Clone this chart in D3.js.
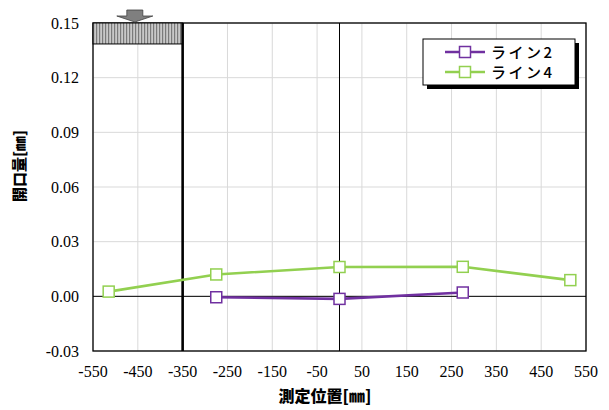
<!DOCTYPE html>
<html>
<head>
<meta charset="utf-8">
<script src="https://cdn.jsdelivr.net/npm/d3@7"></script>
<style>
html,body{margin:0;padding:0;background:#fff;}
svg{display:block;}
</style>
</head>
<body>
<svg id="chart" width="609" height="410"></svg>
<script>
// ---- data ----
const xTicks = [-550,-450,-350,-250,-150,-50,50,150,250,350,450,550];
const yTicks = [-0.03,0.00,0.03,0.06,0.09,0.12,0.15];
const seriesNames = ["ライン2","ライン4"];
const line2X = [-275, 0, 275];
const line2Y = [-0.0005, -0.0014, 0.0021];
const line4X = [-515, -275, 0, 275, 515];
const line4Y = [0.0026, 0.012, 0.0161, 0.0162, 0.0089];
const seriesColors = ["#7030A0","#92D050"];
const supportRange = [-550, -350];
const supportTop = [0.15, 0.1385];
const xTitle = "測定位置[㎜]";
const yTitle = "開口量[㎜]";

const serif = "'Times New Roman', 'Liberation Serif', 'DejaVu Serif', 'Noto Serif', serif";
const cjk = "Noto Sans CJK JP";

const svg = d3.select("#chart");
const m = {l:93, r:586, t:23, b:351};
const x = d3.scaleLinear().domain([-550,550]).range([m.l,m.r]);
const y = d3.scaleLinear().domain([-0.03,0.15]).range([m.b,m.t]);

// pattern
const defs = svg.append("defs");
const pat = defs.append("pattern").attr("id","hatch").attr("patternUnits","userSpaceOnUse")
  .attr("width",3).attr("height",10);
pat.append("rect").attr("width",3).attr("height",10).attr("fill","#c8c8c8");
pat.append("rect").attr("width",1.2).attr("height",10).attr("fill","#7a7a7a");

// grid
svg.append("g").selectAll("line").data(xTicks).join("line")
  .attr("x1",d=>x(d)).attr("x2",d=>x(d)).attr("y1",m.t).attr("y2",m.b)
  .attr("stroke","#d9d9d9").attr("stroke-width",1);
svg.append("g").selectAll("line").data(yTicks).join("line")
  .attr("y1",d=>y(d)).attr("y2",d=>y(d)).attr("x1",m.l).attr("x2",m.r)
  .attr("stroke","#d9d9d9").attr("stroke-width",1);

// zero lines
svg.append("line").attr("x1",m.l).attr("x2",m.r).attr("y1",y(0)).attr("y2",y(0))
  .attr("stroke","#000").attr("stroke-width",1);
svg.append("line").attr("x1",x(0)).attr("x2",x(0)).attr("y1",m.t).attr("y2",m.b)
  .attr("stroke","#000").attr("stroke-width",1);

// plot border
svg.append("rect").attr("x",m.l).attr("y",m.t).attr("width",m.r-m.l).attr("height",m.b-m.t)
  .attr("fill","none").attr("stroke","#000").attr("stroke-width",1.3);

// support box
svg.append("rect").attr("x",x(supportRange[0])).attr("y",y(supportTop[0]))
  .attr("width",x(supportRange[1])-x(supportRange[0])).attr("height",y(supportTop[1])-y(supportTop[0]))
  .attr("fill","url(#hatch)").attr("stroke","#000").attr("stroke-width",1);
// thick line at -350
svg.append("line").attr("x1",x(supportRange[1])).attr("x2",x(supportRange[1])).attr("y1",m.t).attr("y2",m.b)
  .attr("stroke","#000").attr("stroke-width",2.6);

// arrow
const ax = x((supportRange[0]+supportRange[1])/2) - 3;
const at = y(supportTop[0]);
const arrowPts = [[ax-8,at-13],[ax+8,at-13],[ax+8,at-7],[ax+18,at-7],[ax,at-1],[ax-18,at-7],[ax-8,at-7]];
svg.append("polygon").attr("points",arrowPts.map(p=>p.join(",")).join(" "))
  .attr("fill","#7f7f7f").attr("stroke","#404040").attr("stroke-width",0.8);

// axes labels
svg.append("g").selectAll("text").data(xTicks).join("text")
  .attr("x",d=>x(d)).attr("y",377).attr("text-anchor","middle")
  .style("font-family",serif).style("font-size","16px").attr("fill","#000")
  .text(d=>d);
svg.append("g").selectAll("text").data(yTicks).join("text")
  .attr("x",79).attr("y",d=>y(d)+5.5).attr("text-anchor","end")
  .style("font-family",serif).style("font-size","16px").attr("fill","#000")
  .text(d=>d.toFixed(2));

svg.append("text").attr("x",325).attr("y",402).attr("text-anchor","middle")
  .attr("font-family",cjk).attr("font-weight","900").attr("font-size","16px")
  .text(xTitle);
svg.append("text").attr("transform","translate(25,166) rotate(-90)").attr("text-anchor","middle")
  .attr("font-family",cjk).attr("font-weight","900").attr("font-size","15px")
  .text(yTitle);

// series
const series = [
  {name:seriesNames[0], color:seriesColors[0], pts:line2X.map((v,i)=>[v,line2Y[i]])},
  {name:seriesNames[1], color:seriesColors[1], pts:line4X.map((v,i)=>[v,line4Y[i]])}
];
const lineGen = d3.line().x(d=>x(d[0])).y(d=>y(d[1]));
series.forEach(s=>{
  svg.append("path").attr("d",lineGen(s.pts)).attr("fill","none")
    .attr("stroke",s.color).attr("stroke-width",2.6);
  svg.append("g").selectAll("rect").data(s.pts).join("rect")
    .attr("x",d=>x(d[0])-5.5).attr("y",d=>y(d[1])-5.5).attr("width",11).attr("height",11)
    .attr("fill","#fff").attr("stroke",s.color).attr("stroke-width",1.5);
});

// legend
const lg = svg.append("g");
const lx=423, ly=39, lw=152, lh=46;
lg.append("rect").attr("x",lx+4).attr("y",ly+4).attr("width",lw).attr("height",lh).attr("fill","#000");
lg.append("rect").attr("x",lx).attr("y",ly).attr("width",lw).attr("height",lh).attr("fill","#fff")
  .attr("stroke","#000").attr("stroke-width",1);
series.forEach((s,i)=>{
  const yy = ly+13+i*20;
  lg.append("line").attr("x1",lx+22).attr("x2",lx+62).attr("y1",yy).attr("y2",yy)
    .attr("stroke",s.color).attr("stroke-width",2.6);
  lg.append("rect").attr("x",lx+42-5.5).attr("y",yy-5.5).attr("width",11).attr("height",11)
    .attr("fill","#fff").attr("stroke",s.color).attr("stroke-width",1.5);
  lg.append("text").attr("x",lx+68).attr("y",yy+5.5)
    .attr("font-family",cjk).attr("font-size","15px").attr("font-weight","500")
    .attr("letter-spacing","2.5px").attr("fill","#000").text(s.name);
});
</script>
</body>
</html>
